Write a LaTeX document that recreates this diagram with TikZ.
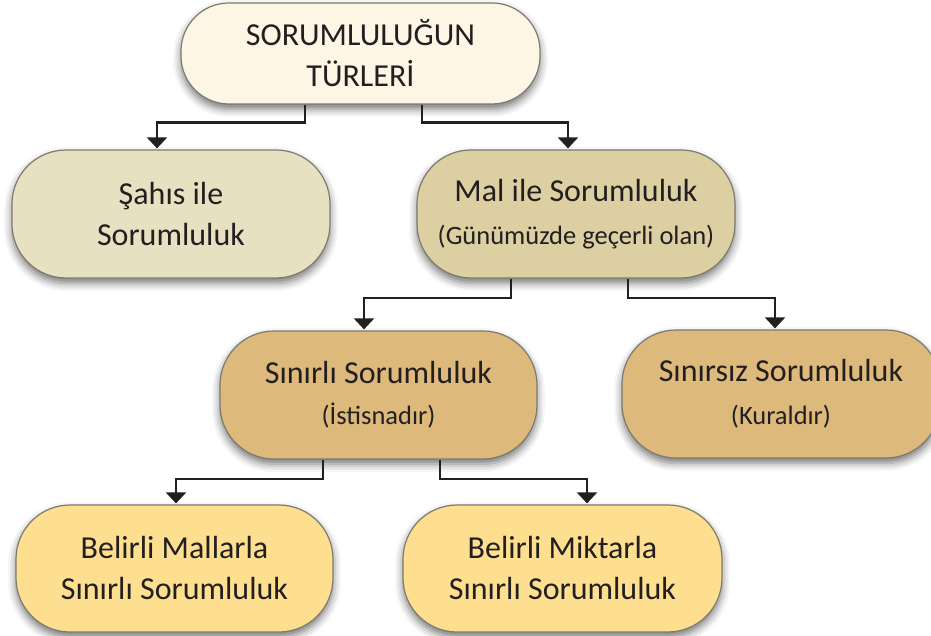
\documentclass[tikz,border=0pt]{standalone}
\usepackage{fontspec}
\setmainfont{Carlito}
\usetikzlibrary{arrows.meta,shadows.blur}
\definecolor{c0}{RGB}{253,246,228}
\definecolor{c1}{RGB}{232,225,193}
\definecolor{c2}{RGB}{220,207,161}
\definecolor{c3}{RGB}{221,185,123}
\definecolor{c4}{RGB}{253,223,143}
\definecolor{boxline}{RGB}{125,122,112}
\definecolor{txt}{RGB}{35,31,32}
\newcommand{\subf}{\fontsize{26.5}{30}\selectfont}
\begin{document}
\begin{tikzpicture}[x=1pt,y=-1pt,
  box/.style={draw=boxline, line width=1.2pt, rounded corners=54pt,
    minimum width=318pt, minimum height=128pt, inner sep=0pt, align=center,
    font=\fontsize{32}{41}\selectfont, text=txt,
    blur shadow={shadow xshift=0pt, shadow yshift=-5pt, shadow blur radius=8pt, shadow opacity=55}},
  conn/.style={line width=2.2pt, draw=txt, shorten >=1pt, -{Triangle[width=20pt,length=11pt]}}]
\useasboundingbox (0,0) rectangle (931,636);

\node[box, fill=c0, minimum width=359pt, minimum height=101pt, rounded corners=48pt] (top) at (360.5,53.5) {SORUMLULUĞUN\\TÜRLERİ};
\node[box, fill=c1] (sahis) at (171,214) {Şahıs ile\\Sorumluluk};
\node[box, fill=c2] (mal) at (576,214) {Mal ile Sorumluluk\\[2pt]\subf (Günümüzde geçerli olan)};
\node[box, fill=c3, minimum width=317pt] (sinirli) at (378.5,395) {Sınırlı Sorumluluk\\[0pt]\subf (İstisnadır)};
\node[box, fill=c3] (sinirsiz) at (781,394) {Sınırsız Sorumluluk\\[2pt]\subf (Kuraldır)};
\node[box, fill=c4, minimum width=317pt, minimum height=127pt] (mallarla) at (174.5,568.5) {Belirli Mallarla\\Sınırlı Sorumluluk};
\node[box, fill=c4, minimum width=319pt, minimum height=127pt] (miktarla) at (562.5,568.5) {Belirli Miktarla\\Sınırlı Sorumluluk};

\draw[conn] ([xshift=-55.5pt]top.south) -- ++(0,18) -| ([xshift=-14pt]sahis.north);
\draw[conn] ([xshift=61.5pt]top.south) -- ++(0,18) -| ([xshift=-8pt]mal.north);
\draw[conn] ([xshift=-65pt]mal.south) -- ++(0,19) -| ([xshift=-14.5pt]sinirli.north);
\draw[conn] ([xshift=52pt]mal.south) -- ++(0,19) -| ([xshift=-6pt]sinirsiz.north);
\draw[conn] ([xshift=-55.5pt]sinirli.south) -- ++(0,19) -| ([xshift=1.5pt]mallarla.north);
\draw[conn] ([xshift=61.5pt]sinirli.south) -- ++(0,19) -| ([xshift=24.5pt]miktarla.north);
\end{tikzpicture}
\end{document}
